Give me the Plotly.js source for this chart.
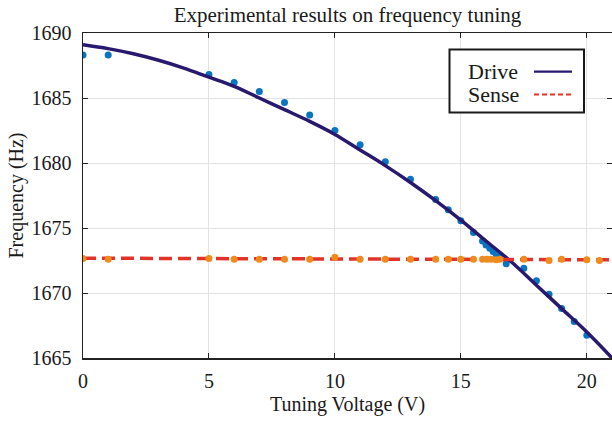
<!DOCTYPE html>
<html>
<head>
<meta charset="utf-8">
<script src="https://cdn.plot.ly/plotly-3.0.1.min.js"></script>
<style>html,body{margin:0;padding:0;background:#fff;}#chart{width:612px;height:422px;}</style>
</head>
<body>
<div id="chart"></div>
<script>
// Measured drive-mode frequencies (blue dots)
var driveMeasX = [0, 1, 5, 6, 7, 8, 9, 10, 11, 12, 13, 14, 14.5, 15, 15.5, 15.86, 16.0, 16.15, 16.28, 16.4, 16.55, 16.8, 17.5, 18, 18.5, 19, 19.5, 20];
var driveMeasY = [1688.3, 1688.3, 1686.8, 1686.2, 1685.5, 1684.65, 1683.7, 1682.5, 1681.4, 1680.1, 1678.75, 1677.2, 1676.4, 1675.55, 1674.65, 1674.0, 1673.7, 1673.45, 1673.2, 1673.0, 1672.8, 1672.25, 1671.9, 1670.95, 1669.9, 1668.8, 1667.8, 1666.75];
// Measured sense-mode frequencies (orange dots)
var senseMeasX = [0, 1, 5, 6, 7, 8, 9, 10, 11, 12, 13, 14, 14.5, 15, 15.5, 15.86, 16.04, 16.2, 16.4, 16.55, 17.5, 18.5, 19, 20, 20.5];
var senseMeasY = [1672.65, 1672.6, 1672.65, 1672.6, 1672.6, 1672.6, 1672.6, 1672.75, 1672.6, 1672.6, 1672.6, 1672.6, 1672.6, 1672.6, 1672.6, 1672.6, 1672.6, 1672.6, 1672.55, 1672.6, 1672.6, 1672.5, 1672.6, 1672.55, 1672.5];
// Drive fit curve
var driveFitX = [0, 1, 2, 3, 4, 5, 6, 7, 8, 9, 10, 11, 12, 13, 14, 15, 16, 17, 18, 19, 20, 21];
var driveFitY = [1689.1, 1688.8, 1688.4, 1687.9, 1687.3, 1686.6, 1685.9, 1685.0, 1684.1, 1683.2, 1682.2, 1681.0, 1679.8, 1678.5, 1677.1, 1675.6, 1674.0, 1672.4, 1670.6, 1668.8, 1667.0, 1665.0];
// Sense fit line
var senseFitX = [0, 21];
var senseFitY = [1672.68, 1672.55];
// Axis ticks
var xTicks = [0, 5, 10, 15, 20];
var yTicks = [1665, 1670, 1675, 1680, 1685, 1690];
var legendNames = ["Drive", "Sense"];

var serif = "Liberation Serif, Times New Roman, serif";
var navy = "#29196e";
var red = "#e2332a";

var traces = [
  {x: driveMeasX, y: driveMeasY, type: "scatter", mode: "markers", showlegend: false,
   marker: {color: "#0a74c0", size: 7}},
  {x: driveFitX, y: driveFitY, type: "scatter", mode: "lines", showlegend: false,
   line: {color: navy, width: 3.5, shape: "spline"}},
  {x: senseFitX, y: senseFitY, type: "scatter", mode: "lines", showlegend: false,
   line: {color: red, width: 3.5, dash: "13px,6px"}},
  {x: senseMeasX, y: senseMeasY, type: "scatter", mode: "markers", showlegend: false,
   marker: {color: "#ee8a1e", size: 7}}
];

// Plot area in pixels: x 83..612, y 33..358
function px(x) { return (x - 83) / 529; }
function py(y) { return (358 - y) / 325; }

var layout = {
  width: 612, height: 422,
  margin: {l: 83, r: 0, t: 33, b: 64, pad: 0},
  paper_bgcolor: "#ffffff", plot_bgcolor: "#ffffff",
  font: {family: serif, size: 20, color: "#1a1a1a"},
  title: {text: "Experimental results on frequency tuning", font: {family: serif, size: 21, color: "#1a1a1a"},
          x: 0.5, xref: "paper", xanchor: "center", y: 1 - 15 / 422, yref: "container", yanchor: "middle"},
  xaxis: {range: [0, 21], tickvals: xTicks, ticktext: xTicks.map(String),
          ticks: "inside", ticklen: 5, tickwidth: 1, tickcolor: "#222",
          showline: true, linecolor: "#222", linewidth: 1.5, mirror: "ticks",
          showgrid: true, gridcolor: "#e3e3e3", gridwidth: 1, zeroline: false,
          tickfont: {family: serif, size: 20, color: "#1a1a1a"}, ticklabelstandoff: 4,
          title: {text: "Tuning Voltage (V)", font: {family: serif, size: 20, color: "#1a1a1a"}, standoff: 6}},
  yaxis: {range: [1665, 1690], tickvals: yTicks, ticktext: yTicks.map(String),
          ticks: "inside", ticklen: 5, tickwidth: 1, tickcolor: "#222",
          showline: true, linecolor: "#222", linewidth: 1.5, mirror: "ticks",
          showgrid: true, gridcolor: "#e3e3e3", gridwidth: 1, zeroline: false,
          tickfont: {family: serif, size: 20, color: "#1a1a1a"}, ticklabelstandoff: 6,
          title: {text: "Frequency (Hz)", font: {family: serif, size: 20, color: "#1a1a1a"}, standoff: 2}},
  shapes: [
    {type: "rect", xref: "paper", yref: "paper", x0: px(449.5), x1: px(584), y0: py(112.5), y1: py(49.5),
     line: {color: "#1a1a1a", width: 2}, fillcolor: "#ffffff", layer: "above"},
    {type: "line", xref: "paper", yref: "paper", x0: px(534), x1: px(572), y0: py(71.7), y1: py(71.7),
     line: {color: navy, width: 2.2}, layer: "above"},
    {type: "line", xref: "paper", yref: "paper", x0: px(534), x1: px(572), y0: py(94.5), y1: py(94.5),
     line: {color: red, width: 2.2, dash: "5px,3px"}, layer: "above"}
  ],
  annotations: [
    {text: legendNames[0], xref: "paper", yref: "paper", x: px(466), y: py(71.7), xanchor: "left", yanchor: "middle",
     showarrow: false, font: {family: serif, size: 22, color: "#1a1a1a"}},
    {text: legendNames[1], xref: "paper", yref: "paper", x: px(466), y: py(94.5), xanchor: "left", yanchor: "middle",
     showarrow: false, font: {family: serif, size: 22, color: "#1a1a1a"}}
  ],
  showlegend: false
};

Plotly.newPlot("chart", traces, layout, {displayModeBar: false, staticPlot: true});
</script>
</body>
</html>
